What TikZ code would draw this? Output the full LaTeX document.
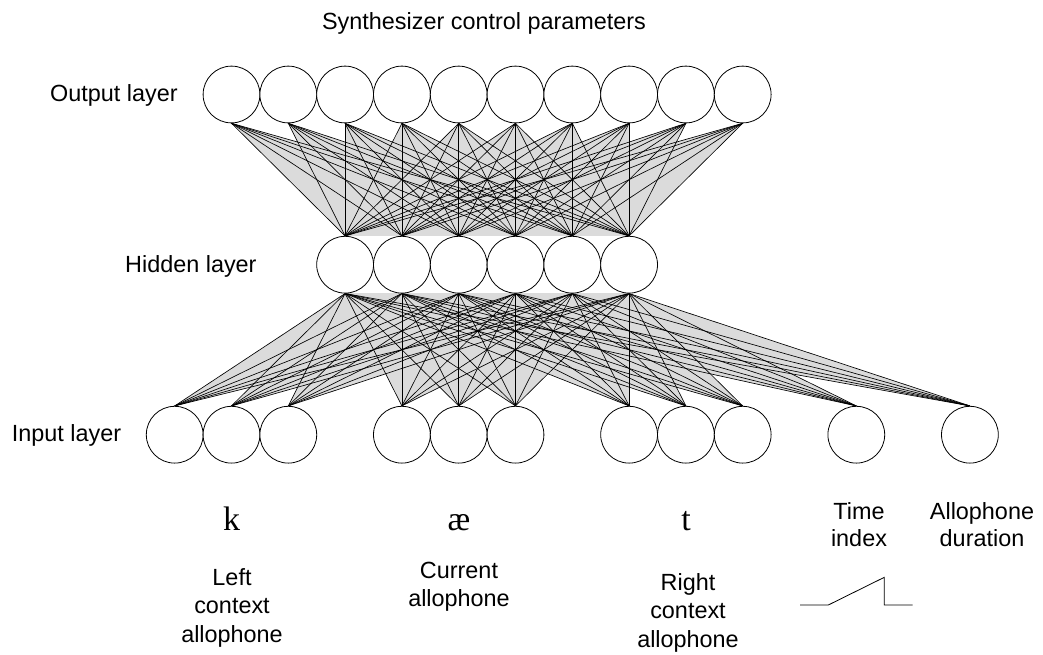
\documentclass[tikz,border=0pt]{standalone}
\usepackage{fontspec}
\setmainfont{Liberation Sans}
\newfontfamily\ipafont{Liberation Serif}
\pgfdeclarelayer{background}
\pgfsetlayers{background,main}
\begin{document}
\begin{tikzpicture}[x=1pt,y=-1pt,
  neuron/.style={circle,draw,fill=white,line width=0.8pt,minimum size=56.8pt,inner sep=0pt},
  link/.style={line width=0.65pt},
  fan/.style={fill=black!14},
  lbl/.style={font=\fontsize{23.4}{27.4}\selectfont,inner sep=0pt},
  lblwide/.style={font=\fontsize{23.4}{28.6}\selectfont,inner sep=0pt},
  ipa/.style={font=\ipafont\fontsize{34}{40}\selectfont,inner sep=0pt}]
\useasboundingbox (0,0) rectangle (1043,654);
% neurons
\foreach \i in {0,...,9} \node[neuron] (o\i) at ({231.5+56.8*\i},94.5) {};
\foreach \j in {0,...,5} \node[neuron] (h\j) at ({231.5+56.8*(\j+2)},264.7) {};
\foreach \k/\p in {0/-1,1/0,2/1,3/3,4/4,5/5,6/7,7/8,8/9,9/11,10/13}
  \node[neuron] (n\k) at ({231.5+56.8*\p},434.7) {};
% connections
\begin{pgfonlayer}{background}
\foreach \i in {0,...,9} \fill[fan] (o\i.south) -- (h0.north) -- (h5.north) -- cycle;
\foreach \k in {0,...,10} \fill[fan] (n\k.north) -- (h0.south) -- (h5.south) -- cycle;
\foreach \i in {0,...,9} \foreach \j in {0,...,5} \draw[link] (o\i.south) -- (h\j.north);
\foreach \k in {0,...,10} \foreach \j in {0,...,5} \draw[link] (n\k.north) -- (h\j.south);
\end{pgfonlayer}
% labels
\node[lbl,anchor=base] (title) at (484,29.3) {Synthesizer control parameters};
\node[lbl,anchor=base west] (lo) at (50,101.7) {Output layer};
\node[lbl,anchor=base west] (lh) at (125,272.3) {Hidden layer};
\node[lbl,anchor=base west] (li) at (11.7,441.7) {Input layer};
\node[ipa,anchor=base] (pk) at (231.5,530) {k};
\node[ipa,anchor=base] (pae) at (459,530) {æ};
\node[ipa,anchor=base] (pt) at (686,530) {t};
\node[lblwide,anchor=base] (lleft) at (232,585) {\begin{tabular}[t]{@{}c@{}}Left\\context\\allophone\end{tabular}};
\node[lblwide,anchor=base] (lcur) at (459,578) {\begin{tabular}[t]{@{}c@{}}Current\\allophone\end{tabular}};
\node[lblwide,anchor=base] (lright) at (688,590) {\begin{tabular}[t]{@{}c@{}}Right\\context\\allophone\end{tabular}};
\node[lbl,anchor=base] (ltime) at (859,519.3) {\begin{tabular}[t]{@{}c@{}}Time\\index\end{tabular}};
\node[lbl,anchor=base] (ldur) at (982,519.3) {\begin{tabular}[t]{@{}c@{}}Allophone\\duration\end{tabular}};
% time-index ramp
\draw[line width=0.8pt] (800,605) -- (828.3,605) -- (884.3,577.3) -- (884.3,605) -- (912.7,605);
\end{tikzpicture}
\end{document}
